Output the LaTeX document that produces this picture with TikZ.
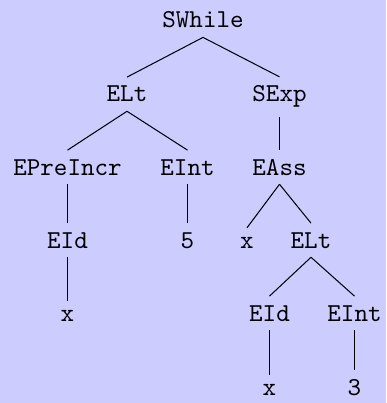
\documentclass[tikz,border=0pt]{standalone}
\usepackage{tikz}
\begin{document}
\begin{tikzpicture}[x=0.3876pt,y=-0.3876pt,
  tn/.style={anchor=base,font=\ttfamily,inner sep=3.33pt},
  edge/.style={draw=black,line width=0.4pt}]
\fill[blue!20] (0,0) rectangle (386,403);
\useasboundingbox (0,0) rectangle (386,403);
\node[tn] (sw) at (203,28) {SWhile};
\node[tn] (elt) at (127,102) {ELt};
\node[tn] (sexp) at (279.5,102) {SExp};
\node[tn] (epre) at (67.5,175) {EPreIncr};
\node[tn] (eint) at (187.5,175) {EInt};
\node[tn] (eass) at (279.5,175) {EAss};
\node[tn] (eid) at (67.5,248) {EId};
\node[tn] (five) at (187.5,248) {5};
\node[tn] (xa) at (247,248) {x};
\node[tn] (eltb) at (311,248) {ELt};
\node[tn] (xb) at (67.5,321) {x};
\node[tn] (eidb) at (269.5,321) {EId};
\node[tn] (eintb) at (354.5,321) {EInt};
\node[tn] (xc) at (269.5,395) {x};
\node[tn] (three) at (354.5,395) {3};
\draw[edge] (sw.south) -- (elt.north);
\draw[edge] (sw.south) -- (sexp.north);
\draw[edge] (elt.south) -- (epre.north);
\draw[edge] (elt.south) -- (eint.north);
\draw[edge] (sexp.south) -- (eass.north);
\draw[edge] (epre.south) -- (eid.north);
\draw[edge] (eint.south) -- (five.north);
\draw[edge] (eass.south) -- (xa.north);
\draw[edge] (eass.south) -- (eltb.north);
\draw[edge] (eid.south) -- (xb.north);
\draw[edge] (eltb.south) -- (eidb.north);
\draw[edge] (eltb.south) -- (eintb.north);
\draw[edge] (eidb.south) -- (xc.north);
\draw[edge] (eintb.south) -- (three.north);
\end{tikzpicture}
\end{document}
